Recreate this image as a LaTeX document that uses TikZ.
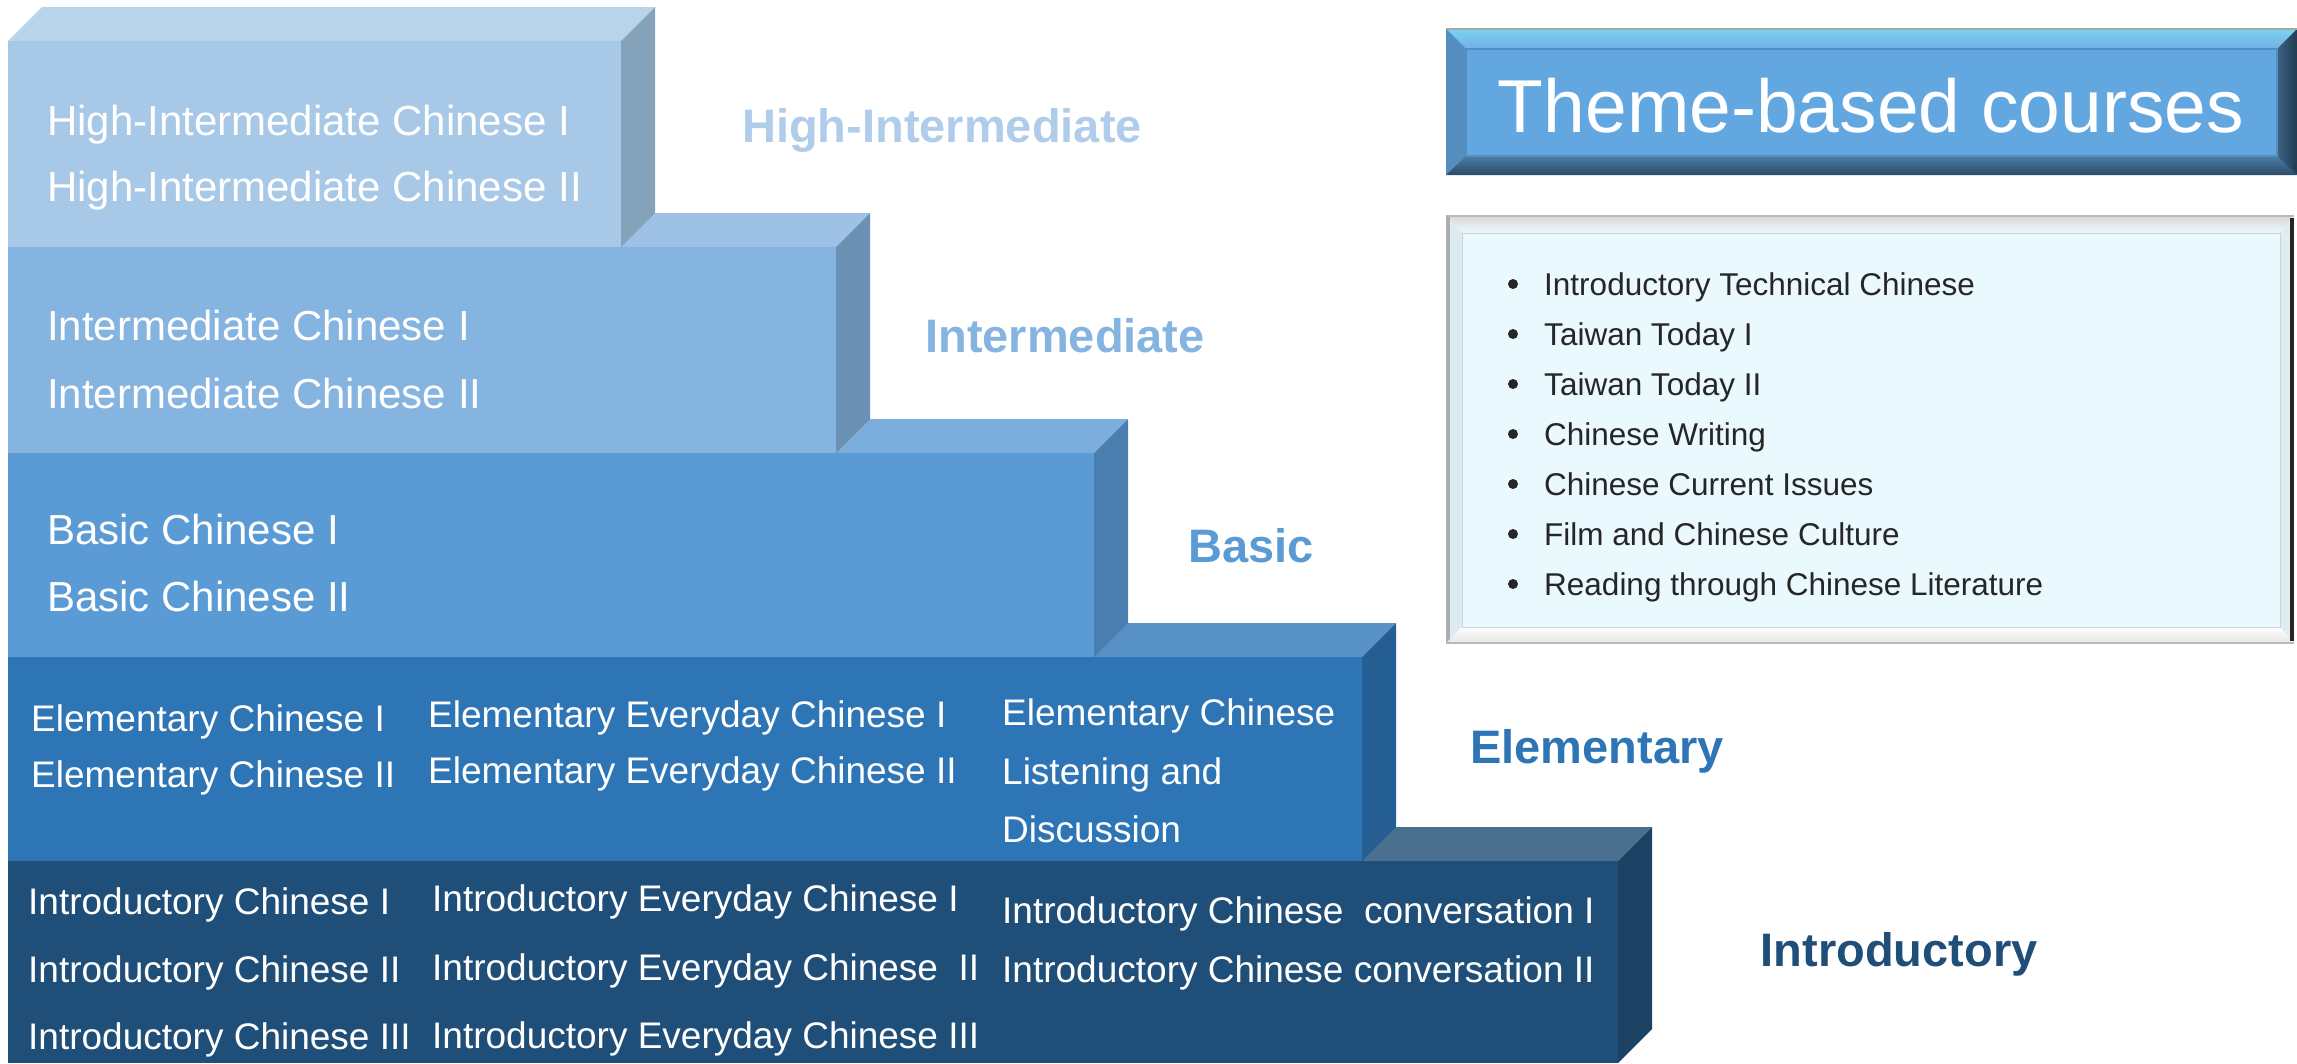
\documentclass[tikz,border=0pt]{standalone}
\usepackage{fontspec}
\setmainfont{Liberation Sans}
\definecolor{hiF}{HTML}{A7C8E6}\definecolor{hiT}{HTML}{B8D4EB}\definecolor{hiS}{HTML}{84A2BA}
\definecolor{imF}{HTML}{85B4E0}\definecolor{imT}{HTML}{9DC2E6}\definecolor{imS}{HTML}{6A90B4}
\definecolor{baF}{HTML}{5B9BD5}\definecolor{baT}{HTML}{7BAEDD}\definecolor{baS}{HTML}{4A7EAE}
\definecolor{elF}{HTML}{2E75B6}\definecolor{elT}{HTML}{5891C5}\definecolor{elS}{HTML}{255E93}
\definecolor{inF}{HTML}{1F4E79}\definecolor{inT}{HTML}{4A7090}\definecolor{inS}{HTML}{1B4163}
\definecolor{hiL}{HTML}{AFCDEA}
\definecolor{listtxt}{HTML}{262626}
\definecolor{themeF}{HTML}{63A7E1}
\definecolor{listF}{HTML}{EAF9FE}
\definecolor{bevelL}{HTML}{DCEBF1}
\newcommand\blockstep[6]{% right, top, bottom, front, top, side
  \fill[#5] (8,#2) -- (42,#2-34) -- (#1+34,#2-34) -- (#1,#2) -- cycle;
  \fill[#6] (#1,#2) -- (#1+34,#2-34) -- (#1+34,#3-34) -- (#1,#3) -- cycle;
  \fill[#4] (8,#2) rectangle (#1,#3);
}
\newcommand\bigtxt{\fontsize{42}{50}\selectfont}
\newcommand\midtxt{\fontsize{37}{44}\selectfont}
\newcommand\lbltxt{\fontsize{47}{56}\selectfont\bfseries}
\newcommand\listtxtf{\fontsize{31.5}{38}\selectfont}
\begin{document}
\begin{tikzpicture}[x=1pt,y=-1pt,
  wt/.style={anchor=base west,inner sep=0pt,text=white},
  lbl/.style={anchor=base,inner sep=0pt,font=\lbltxt},
  itm/.style={anchor=base west,inner sep=0pt,text=listtxt,font=\listtxtf}]
\useasboundingbox (0,0) rectangle (2297,1063);
% stair blocks, bottom first
\blockstep{1618}{861}{1063}{inF}{inT}{inS}
\blockstep{1362}{657}{861}{elF}{elT}{elS}
\blockstep{1094}{453}{657}{baF}{baT}{baS}
\blockstep{836}{247}{453}{imF}{imT}{imS}
\blockstep{621}{41}{247}{hiF}{hiT}{hiS}
% block texts
\node[wt,font=\bigtxt] (hi1) at (47,135) {High-Intermediate Chinese I};
\node[wt,font=\bigtxt] (hi2) at (47,201) {High-Intermediate Chinese II};
\node[wt,font=\bigtxt] (im1) at (47,340) {Intermediate Chinese I};
\node[wt,font=\bigtxt] (im2) at (47,408) {Intermediate Chinese II};
\node[wt,font=\bigtxt] (ba1) at (47,544) {Basic Chinese I};
\node[wt,font=\bigtxt] (ba2) at (47,611) {Basic Chinese II};
\node[wt,font=\midtxt] (el1) at (31,731) {Elementary Chinese I};
\node[wt,font=\midtxt] (el2) at (31,787) {Elementary Chinese II};
\node[wt,font=\midtxt] (el3) at (428,727) {Elementary Everyday Chinese I};
\node[wt,font=\midtxt] (el4) at (428,783) {Elementary Everyday Chinese II};
\node[wt,font=\midtxt] (el5) at (1002,725) {Elementary Chinese};
\node[wt,font=\midtxt] (el6) at (1002,784) {Listening and};
\node[wt,font=\midtxt] (el7) at (1002,842) {Discussion};
\node[wt,font=\midtxt] (in1) at (28,914) {Introductory Chinese I};
\node[wt,font=\midtxt] (in2) at (28,982) {Introductory Chinese II};
\node[wt,font=\midtxt] (in3) at (28,1049) {Introductory Chinese III};
\node[wt,font=\midtxt] (in4) at (432,911) {Introductory Everyday Chinese I};
\node[wt,font=\midtxt] (in5) at (432,980) {Introductory Everyday Chinese\ \ II};
\node[wt,font=\midtxt] (in6) at (432,1048) {Introductory Everyday Chinese III};
\node[wt,font=\midtxt] (in7) at (1002,923) {Introductory Chinese\ \ conversation I};
\node[wt,font=\midtxt] (in8) at (1002,982) {Introductory Chinese conversation II};
% level labels
\node[lbl,text=hiL] (lhi) at (942,142) {High-Intermediate};
\node[lbl,text=imF] (lim) at (1065,352) {Intermediate};
\node[lbl,text=baF] (lba) at (1251,562) {Basic};
\node[lbl,text=elF] (lel) at (1597,763) {Elementary};
\node[lbl,text=inF] (lin) at (1899,966) {Introductory};
% theme-based title box
\fill[themeF] (1446,29) rectangle (2297,175);
\shade[top color=white!35!themeF!80!cyan, bottom color=themeF!90!white] (1446,29) -- (2297,29) -- (2277,49) -- (1466,49) -- cycle;
\fill[themeF!85!black] (1446,29) -- (1466,49) -- (1466,156) -- (1446,175) -- cycle;
\shade[top color=themeF!75!black, bottom color=themeF!45!black] (1446,175) -- (1466,156) -- (2277,156) -- (2297,175) -- cycle;
\shade[left color=themeF!60!black, right color=themeF!35!black] (2297,29) -- (2277,49) -- (2277,156) -- (2297,175) -- cycle;
\draw[themeF!85!black, line width=1.5pt] (1466,49) rectangle (2277,156);
\draw[gray!70, line width=1.5pt] (1446,29) -- (2297,29);
\node[anchor=base,inner sep=0pt,text=white,font=\fontsize{75}{90}\selectfont] (theme) at (1871,132) {Theme-based courses};
% list box
\fill[listF] (1446,216) rectangle (2294,643);
\shade[top color=gray!30, bottom color=listF] (1446,216) -- (2294,216) -- (2280,233) -- (1462,233) -- cycle;
\fill[bevelL] (1446,216) -- (1462,233) -- (1462,627) -- (1446,643) -- cycle;
\fill[gray!65] (1446,216) rectangle (1450,643);
\shade[top color=white, bottom color=gray!20] (1446,643) -- (1462,627) -- (2280,627) -- (2294,643) -- cycle;
\fill[listF!90!gray] (2294,216) -- (2280,233) -- (2280,627) -- (2294,643) -- cycle;
\fill[black!85] (2290,218) rectangle (2294,641);
\draw[gray!35, line width=1pt] (1462,233) rectangle (2280,627);
\draw[gray!55, line width=1.5pt] (1446,643) -- (2294,643);
\draw[gray!55, line width=1.5pt] (1446,216) -- (2294,216);
\foreach \t [count=\k from 0] in {Introductory Technical Chinese,Taiwan Today I,Taiwan Today II,Chinese Writing,Chinese Current Issues,Film and Chinese Culture,Reading through Chinese Literature}{
  \fill[listtxt] (1513,284+50*\k) circle (5);
  \node[itm] (item\k) at (1544,295+50*\k) {\t};
}
\end{tikzpicture}
\end{document}
